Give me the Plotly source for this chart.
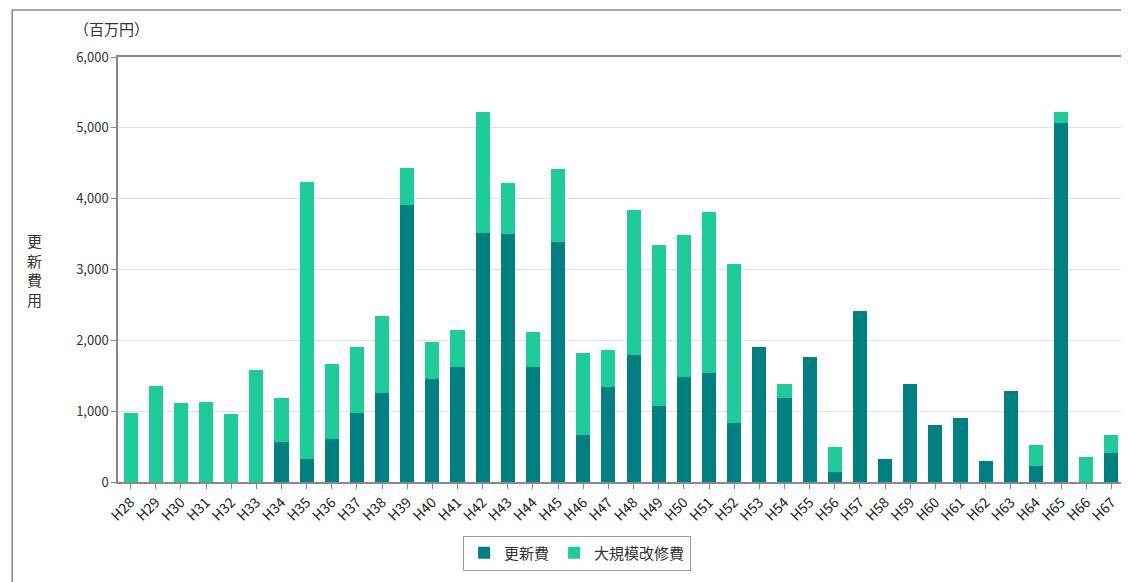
import plotly.graph_objects as go

years = ["H%d" % i for i in range(28, 68)]
renewal = [0, 0, 0, 0, 0, 0, 560, 330, 610, 980, 1250, 3910, 1460, 1630, 3520, 3500, 1620, 3390, 660, 1340,
           1800, 1070, 1480, 1540, 840, 1900, 1180, 1760, 140, 2420, 320, 1390, 800, 910, 290, 1290, 220, 5070, 0, 410]
total = [970, 1350, 1110, 1130, 960, 1580, 1180, 4230, 1660, 1900, 2350, 4430, 1970, 2140, 5220, 4220, 2120, 4420, 1820, 1860,
         3840, 3350, 3490, 3810, 3080, 1900, 1390, 1760, 490, 2420, 320, 1390, 800, 910, 290, 1290, 520, 5230, 350, 660]
major_repair = [t - r for t, r in zip(total, renewal)]

dark = "#008080"
light = "#1ECC9A"
font = "Noto Sans CJK JP"

OFF = 8  # page body margin
W, H = 1129 - OFF, 582 - OFF
L, T = 118 - OFF, 57 - OFF
plot_right, plot_bottom = 1126 - OFF, 482 - OFF
R, B = W - plot_right, H - plot_bottom
pw, ph = plot_right - L, plot_bottom - T

def px(x):
    return (x - OFF - L) / pw

def py(y):
    return (plot_bottom - (y - OFF)) / ph

fig = go.Figure()
fig.add_trace(go.Bar(x=years, y=renewal, name="更新費", marker=dict(color=dark, line=dict(width=0))))
fig.add_trace(go.Bar(x=years, y=major_repair, name="大規模改修費", marker=dict(color=light, line=dict(width=0))))

fig.update_layout(
    width=W, height=H,
    margin=dict(l=L, r=R, t=T, b=B),
    barmode="stack", bargap=0.44,
    paper_bgcolor="white", plot_bgcolor="white",
    font=dict(family=font, size=12, color="#333333"),
    showlegend=True,
    legend=dict(orientation="h", x=px(578), xanchor="center", y=py(553), yanchor="middle",
                bordercolor="#999999", borderwidth=1, font=dict(size=15, color="#333333"),
                traceorder="normal", itemwidth=30),
    xaxis=dict(tickangle=-45, showline=True, linecolor="#888888", linewidth=1.5, mirror=True,
               ticks="outside", ticklen=5, tickcolor="#888888", tickfont=dict(size=14, color="#222222"),
               showgrid=False),
    yaxis=dict(range=[0, 6000], dtick=1000, tickformat=",d", showline=True, linecolor="#888888",
               linewidth=1.5, mirror=True, ticks="outside", ticklen=5, tickcolor="#888888",
               gridcolor="#E0E0E0", gridwidth=1, tickfont=dict(size=13, color="#333333"), zeroline=False),
    annotations=[
        dict(text="（百万円）", xref="paper", yref="paper", x=px(72), y=py(29), xanchor="left", yanchor="middle",
             showarrow=False, font=dict(size=15, color="#333333")),
        dict(text="更<br>新<br>費<br>用", xref="paper", yref="paper", x=px(34), y=py(270), xanchor="center",
             yanchor="middle", showarrow=False, font=dict(size=15, color="#333333")),
    ],
    shapes=[
        dict(type="rect", xref="paper", yref="paper", x0=px(12), x1=px(1140), y0=py(600), y1=py(10),
             line=dict(color="#888888", width=1.5), layer="below"),
    ],
)

fig.write_html("out.html")
